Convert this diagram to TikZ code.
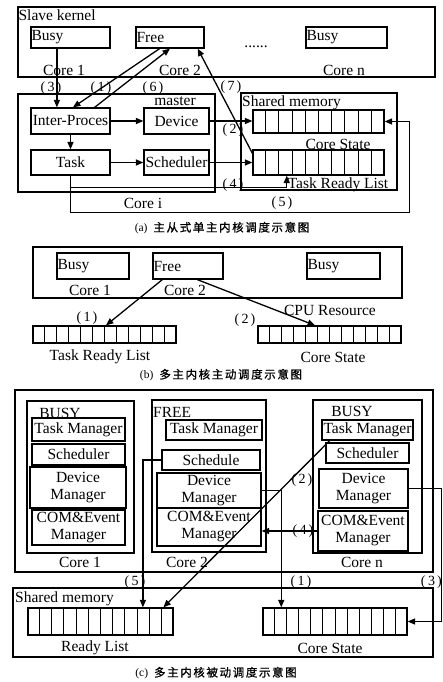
\documentclass[tikz,border=0pt]{standalone}
\usepackage{fontspec}
\setmainfont{Liberation Serif}
\newfontfamily\cjk[LetterSpace=14,FakeBold=1]{Noto Sans CJK SC}
\usetikzlibrary{arrows.meta,calc}

\newcommand\fs{\fontsize{15.5}{17}\selectfont}
\newcommand\pn[1]{(\kern2.5pt#1\kern2pt)}
% rectangle given by its corners: [opts]{name}{x1}{y1}{x2}{y2}{text}
\newcommand\rbox[7][]{%
  \node[box,minimum width={(#5)-(#3)},minimum height={(#6)-(#4)},#1]
    (#2) at ({((#3)+(#5))/2},{((#4)+(#6))/2}) {#7};}
% row of n equal cells: {name}{x1}{y1}{x2}{y2}{n}
\newcommand\cells[6]{%
  \rbox{#1}{#2}{#3}{#4}{#5}{}
  \pgfmathtruncatemacro\lastcell{#6-1}
  \foreach \k in {1,...,\lastcell}
    \draw[cellline] ($(#1.north west)!\k/#6!(#1.north east)$)
                 -- ($(#1.south west)!\k/#6!(#1.south east)$);}

\tikzset{
  box/.style={draw,line width=1.2pt,inner sep=1pt,font=\fs,align=center},
  lbl/.style={font=\fs,inner sep=0pt},
  num/.style={font=\fontsize{14}{14}\selectfont,inner sep=0pt},
  captxt/.style={font=\fontsize{11.5}{13}\selectfont,inner sep=0pt},
  cellline/.style={line width=1pt},
  arr/.style={line width=1.3pt,-{Triangle[length=7.5pt,width=6pt]}},
  lefttext/.style={label={[lbl,anchor=west,xshift=1pt]west:#1}}
}

\begin{document}
\begin{tikzpicture}[x=1pt,y=-1pt]
\useasboundingbox (0,0) rectangle (443,682);

% ---------------- (a) master/slave, single master kernel
\rbox{slave}{18}{7}{435}{77}{}
\node[lbl,anchor=north west] (slavet) at ($(slave.north west)+(1,3)$) {Slave kernel};
\rbox[lefttext=Busy]{busyA}{31}{27}{110}{48}{}
\rbox[lefttext=Free]{freeA}{136}{27}{204}{48}{}
\rbox[lefttext=Busy]{busyAn}{306}{27}{387}{48}{}
\node[lbl] (dotsA) at (256,47) {......};
\node[lbl] (c1A) at (64,70) {Core 1};
\node[lbl] (c2A) at (180,70) {Core 2};
\node[lbl] (cnA) at (344,70) {Core n};

\rbox{masterbox}{18}{94}{215}{192}{}
\node[lbl] (mst) at (175,101) {master};
\rbox{ipc}{31}{108}{110}{134}{Inter-Proces}
\rbox{dev}{144}{108}{209}{134}{Device}
\rbox{task}{31}{150}{110}{175}{Task}
\rbox{sch}{144}{150}{209}{175}{Scheduler}
\node[lbl] (coreil) at (143,203) {Core i};

\rbox{shmA}{241}{93}{397}{190}{}
\node[lbl,anchor=west] (shmAt) at (242,103) {Shared memory};
\cells{csA}{253}{110}{384}{133}{10}
\cells{trlA}{253}{150}{384}{175}{10}
\node[lbl] (csAt) at (338,144) {Core State};
\node[lbl] (trlAt) at (338,185) {Task Ready List};

\coordinate (a3s) at ($(busyA.south west)!0.33!(busyA.south east)$);
\draw[arr] (a3s) -- (a3s |- ipc.north);
\draw[arr] ($(freeA.south west)!0.35!(freeA.south east)$) -- ($(ipc.north west)!0.53!(ipc.north east)$);
\draw[arr] ($(ipc.north west)!0.8!(ipc.north east)$) -- ($(freeA.south west)!0.5!(freeA.south east)$);
\draw[arr] ($(trlA.north west)!0.15!(trlA.south west)$) -- ($(freeA.south west)!0.9!(freeA.south east)$);
\draw[arr] (ipc) -- (dev);
\draw[arr] (ipc) -- (task);
\draw[arr] (task) -- (sch);
\draw[arr] (dev.east) -- (dev.east -| csA.west);
\draw[arr] (sch.east) -- (sch.east -| trlA.west);
\draw[arr] (task.south) -- ++(0,12) -| ($(trlA.south west)!0.26!(trlA.south east)$);
\draw[arr] (task.south) -- ++(0,37) -| ([xshift=25pt]csA.east) -- (csA.east);

\node[num] (n3A) at (51,88) {\pn{3}};
\node[num] (n1A) at (101,88) {\pn{1}};
\node[num] (n6A) at (153,88) {\pn{6}};
\node[num] (n7A) at (231,87) {\pn{7}};
\node[num] (n2A) at (233,130) {\pn{2}};
\node[num] (n4A) at (233,185) {\pn{4}};
\node[num] (n5A) at (282,203) {\pn{5}};

\node[captxt] (capA) at (222,228) {(a)\hspace{6pt}{\cjk 主从式单主内核调度示意图}};

% ---------------- (b) multiple master kernels, active scheduling
\rbox[line width=1.4pt]{cpu}{33}{247}{402}{298}{}
\rbox[lefttext=Busy]{busyB}{57}{253}{129}{279}{}
\rbox[lefttext=Free]{freeB}{153}{253}{223}{279}{}
\rbox[lefttext=Busy]{busyBn}{307}{253}{380}{279}{}
\node[lbl] (c1B) at (90,290) {Core 1};
\node[lbl] (c2B) at (185,290) {Core 2};
\node[lbl] (cpuB) at (330,310) {CPU Resource};
\cells{trlB}{33}{326}{176}{343}{12}
\cells{csB}{258}{326}{401}{343}{12}
\node[lbl] (trlBt) at (100,357) {Task Ready List};
\node[lbl] (csBt) at (333,357) {Core State};
\draw[arr] ($(freeB.south west)!0.14!(freeB.south east)$) -- ($(trlB.north west)!0.51!(trlB.north east)$);
\draw[arr] ($(freeB.south west)!0.63!(freeB.south east)$) -- ($(csB.north west)!0.4!(csB.north east)$);
\node[num] (n1B) at (87,318) {\pn{1}};
\node[num] (n2B) at (245,320) {\pn{2}};

\node[captxt] (capB) at (221,375) {(b)\hspace{6pt}{\cjk 多主内核主动调度示意图}};

% ---------------- (c) multiple master kernels, passive scheduling
\rbox{outC}{15}{390}{433}{572}{}

\rbox{core1C}{27}{401}{134}{553}{}
\node[lbl] (busy1C) at (60,413) {BUSY};
\rbox{tm1}{32}{418}{125}{441}{Task Manager}
\rbox{sc1}{32}{444}{125}{465}{Scheduler}
\rbox{dm1}{30}{467}{126}{508}{Device\\Manager}
\rbox{ce1}{32}{510}{125}{545}{COM\&Event\\Manager}
\node[lbl] (c1C) at (80,562) {Core 1};

\rbox{core2C}{152}{400}{266}{552}{}
\node[lbl,anchor=west] (free2C) at (153,412) {FREE};
\rbox{tm2}{166}{420}{262}{440}{Task Manager}
\rbox{sc2}{162}{450}{260}{470}{Schedule}
\rbox{dm2}{157}{473}{261}{508}{Device\\Manager}
\rbox{ce2}{157}{508}{261}{546}{COM\&Event\\Manager}
\node[lbl] (c2C) at (187,562) {Core 2};

\rbox{corenC}{313}{400}{422}{553}{}
\node[lbl] (busynC) at (352,411) {BUSY};
\rbox{tmn}{322}{420}{413}{440}{Task Manager}
\rbox{scn}{326}{443}{409}{463}{Scheduler}
\rbox{dmn}{319}{469}{408}{508}{Device\\Manager}
\rbox{cen}{318}{511}{408}{551}{COM\&Event\\Manager}
\node[lbl] (cnC) at (362,562) {Core n};

\rbox{shmC}{13}{588}{433}{657}{}
\node[lbl,anchor=west] (shmCt) at (15,599) {Shared memory};
\cells{rlC}{28}{608}{173}{635}{12}
\cells{csC}{263}{608}{407}{635}{12}
\node[lbl] (rlCt) at (95,648) {Ready List};
\node[lbl] (csCt) at (330,648) {Core State};

\draw[arr] (sc2.west) -| ($(rlC.north west)!0.79!(rlC.north east)$);
\draw[arr] ($(tmn.south west)!0.09!(tmn.south east)$) -- ($(rlC.north west)!0.93!(rlC.north east)$);
\draw[arr] (dm2.east) -| ($(csC.north west)!0.13!(csC.north east)$);
\draw[arr] (cen.west) -- (cen.west -| ce2.east);
\draw[arr] (dmn.east) -- ++(33,0) |- (csC.east);

\node[num] (n5C) at (135,582) {\pn{5}};
\node[num] (n1C) at (301,582) {\pn{1}};
\node[num,anchor=east] (n3C) at (442,582) {\pn{3}};
\node[num] (n2C) at (302,480) {\pn{2}};
\node[num] (n4C) at (303,531) {\pn{4}};

\node[captxt] (capC) at (216,673) {(c)\hspace{6pt}{\cjk 多主内核被动调度示意图}};
\end{tikzpicture}
\end{document}
